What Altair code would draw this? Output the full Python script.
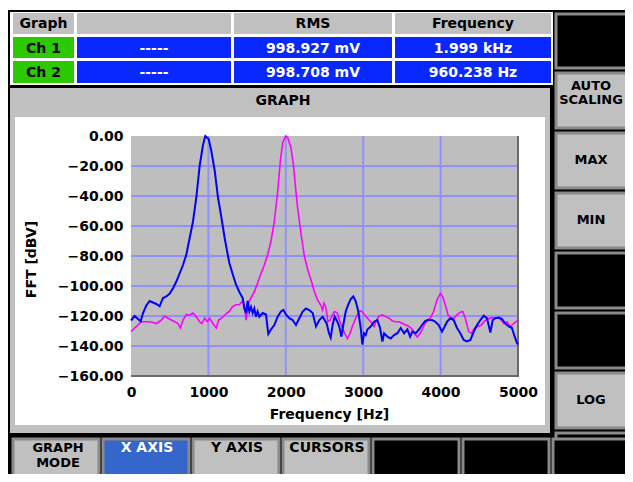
import altair as alt
import pandas as pd

# ---------------- data ----------------
# Ch 1 (magenta) spectrum
ch1_freq = [0, 47, 90, 133, 198, 262, 327, 392, 435, 478, 521, 564, 607, 637, 672, 715, 758, 801,
            844, 887, 917, 952, 986, 1016, 1059, 1102, 1133, 1167, 1210, 1240, 1270, 1313, 1356,
            1400, 1443, 1464, 1486, 1507, 1529, 1550, 1593, 1636, 1680, 1723, 1766, 1809, 1852,
            1895, 1930, 1960, 1999, 2025, 2067, 2100, 2131, 2153, 2196, 2240, 2283, 2326, 2369,
            2412, 2455, 2476, 2494, 2515, 2545, 2575, 2605, 2631, 2666, 2700, 2731, 2761, 2796,
            2830, 2860, 2903, 2946, 2976, 3011, 3054, 3097, 3140, 3175, 3205, 3248, 3291, 3334,
            3377, 3420, 3463, 3507, 3550, 3593, 3636, 3666, 3700, 3744, 3780, 3824, 3867, 3910,
            3953, 3997, 4027, 4061, 4096, 4126, 4169, 4212, 4255, 4285, 4319, 4362, 4397, 4440,
            4483, 4526, 4570, 4613, 4664, 4707, 4750, 4785, 4815, 4858, 4901, 4944, 4987, 5000]
ch1_db = [-130.4, -128, -126, -123.8, -123.8, -124, -125, -122.7, -120, -121.5, -122.7, -123.8,
          -125, -128, -122.7, -119, -119.5, -118, -120.5, -123.8, -125, -121.5, -123.8, -121.5,
          -125, -128, -122.7, -121.5, -119.5, -118, -117, -113.7, -112.5, -112.5, -110, -112.5,
          -122.7, -115, -110, -108, -103.7, -98, -91.5, -86, -79, -70, -57, -37, -16.5, -4.5, 0,
          -1, -8, -20, -37, -48, -65, -80, -89, -96, -103.7, -109.5, -113, -116, -111.5, -113.8,
          -123.8, -122.7, -119, -117, -118, -123.8, -128, -131.5, -135, -131.5, -127, -121.5,
          -117, -116.7, -118.9, -121.5, -123.8, -127, -122.7, -120, -119.3, -120.4, -121.5,
          -123.3, -123.8, -123.8, -125, -126, -127, -129, -132, -134, -131, -127, -122.7,
          -121.5, -117, -109.3, -105, -107, -112.7, -119.3, -121, -121.5, -119.3, -117.5, -117,
          -121.5, -130.4, -131.5, -128, -127, -126, -123.3, -122, -121, -121.5, -121, -122.7,
          -125, -123.8, -127, -125, -123.3, -123.8]

# Ch 2 (blue) spectrum
ch2_freq = [0, 47, 90, 125, 155, 198, 241, 284, 327, 370, 413, 457, 500, 543, 586, 629, 672, 715,
            758, 801, 844, 887, 930, 960, 1003, 1038, 1081, 1124, 1167, 1210, 1253, 1270, 1313,
            1356, 1400, 1443, 1464, 1486, 1507, 1529, 1550, 1572, 1593, 1615, 1636, 1658, 1701,
            1744, 1774, 1808, 1852, 1895, 1938, 1968, 2002, 2045, 2088, 2131, 2175, 2218, 2261,
            2304, 2347, 2390, 2433, 2476, 2494, 2528, 2558, 2580, 2605, 2631, 2666, 2696, 2718,
            2743, 2774, 2804, 2838, 2873, 2903, 2937, 2968, 2989, 3011, 3032, 3054, 3097, 3140,
            3183, 3218, 3248, 3270, 3313, 3356, 3399, 3442, 3485, 3528, 3571, 3606, 3636, 3679,
            3722, 3760, 3803, 3846, 3889, 3932, 3975, 4018, 4053, 4083, 4126, 4169, 4212, 4255,
            4298, 4341, 4385, 4428, 4471, 4514, 4557, 4600, 4643, 4673, 4707, 4750, 4793, 4836,
            4879, 4922, 4957, 4987, 5000]
ch2_db = [-123, -120, -122, -123.5, -118, -113, -110, -111, -112, -113.5, -108, -107, -105,
          -101.5, -97, -91.5, -86, -79, -68, -57, -41, -20, -6, 0, -2, -10, -23, -41, -54, -68,
          -80, -84.5, -92, -99, -104, -108, -115, -118, -110, -117, -114, -118, -115, -120.5,
          -117, -120.5, -118, -119, -132, -129, -126, -120.5, -117, -116, -119, -121.5, -122.7,
          -126, -121.5, -117, -115, -116, -118, -127, -122.7, -120.5, -122, -125, -131.5,
          -134.4, -126, -120.4, -123.8, -128, -133.8, -126, -117, -112.7, -108.7, -107, -110,
          -117, -128, -139, -131.5, -132.7, -129, -127, -123.8, -122.7, -128, -137, -131.5,
          -133.8, -135, -132.7, -131.5, -128, -131.5, -129, -133.8, -130.4, -131.5, -129, -126,
          -123.3, -122.7, -122.7, -123.8, -126, -130.4, -127, -123.8, -121.5, -122.7, -128,
          -131.5, -136, -137, -136, -130.4, -126, -122.7, -119.8, -121.5, -131, -122.7, -121.5,
          -121, -122, -125, -127, -128, -133.8, -138, -139]

channels = ["Ch 1", "Ch 2"]
channel_blank = ["-----", "-----"]
channel_rms = ["998.927 mV", "998.708 mV"]
channel_freq = ["1.999 kHz", "960.238 Hz"]
table_header = ["Graph", "", "RMS", "Frequency"]
x_ticks = [0, 1000, 2000, 3000, 4000, 5000]
y_ticks = [0, -20, -40, -60, -80, -100, -120, -140, -160]
side_keys = [["AUTO", "SCALING"], ["MAX"], ["MIN"], [], [], ["LOG"], []]
bottom_keys = [["GRAPH", "MODE"], ["X AXIS"], ["Y AXIS"], ["CURSORS"], [], [], []]
panel_title = "GRAPH"
x_title = "Frequency [Hz]"
y_title = "FFT [dBV]"

# ---------------- layout / style ----------------
FONT = "DejaVu Sans"
OX, OY = 131, 136          # page position of the plot origin
PW, PH = 387, 240          # plot area size
TOTAL_W, TOTAL_H = 617, 466
PANEL = "#c0c0c0"
KEY_EDGE = "#8a8a8a"
CELL_BLUE = "#0828ff"
CELL_GREEN = "#2cc800"
KEY_BLUE = "#3466cc"
GRID = "#9090ff"
PLOT_BG = "#bebebe"

ONE = alt.Data(values=[{}])


def box(x0, y0, x1, y1, fill, stroke=None, sw=0):
    kw = dict(fill=fill)
    if stroke:
        kw.update(stroke=stroke, strokeWidth=sw)
    return alt.Chart(ONE).mark_rect(**kw).encode(
        x=alt.value(x0 - OX), x2=alt.value(x1 - OX),
        y=alt.value(y0 - OY), y2=alt.value(y1 - OY))


def label(x, y, text, color="black", size=14):
    return alt.Chart(ONE).mark_text(
        text=text, color=color, font=FONT, fontSize=size, fontWeight="bold",
        align="center", baseline="middle").encode(
        x=alt.value(x - OX), y=alt.value(y - OY))


layers = []
# screen background
layers.append(box(8, 10, 645, 495, "black"))

# ---- table ----
layers.append(box(10, 12, 553, 85, "white"))
cols = [(13, 74), (77, 231), (234, 392), (395, 551)]
rows = [(13, 34), (37, 58), (61, 83)]
for ci, (cx0, cx1) in enumerate(cols):
    layers.append(box(cx0, rows[0][0], cx1, rows[0][1], PANEL))
    if table_header[ci]:
        layers.append(label((cx0 + cx1) / 2, 24, table_header[ci]))
row_texts = [channels, channel_blank, channel_rms, channel_freq]
for ri in range(2):
    ry0, ry1 = rows[ri + 1]
    for ci, (cx0, cx1) in enumerate(cols):
        fill = CELL_GREEN if ci == 0 else CELL_BLUE
        layers.append(box(cx0, ry0, cx1, ry1, fill))
        color = "black" if ci == 0 else "white"
        layers.append(label((cx0 + cx1) / 2, (ry0 + ry1) / 2 + 1, row_texts[ci][ri], color))

# ---- middle panel ----
layers.append(box(10, 88, 550, 433, PANEL))
layers.append(label(283, 101, panel_title))
layers.append(box(15, 117, 545, 425, "white"))

# ---- right soft keys ----
layers.append(box(556, 14, 645, 68, "black", KEY_EDGE, 3))
for i, lines in enumerate(side_keys):
    top = 73 + 60 * i
    fill = PANEL if lines else "black"
    layers.append(box(556, top, 645, top + 55, fill, KEY_EDGE, 3))
    if len(lines) == 2:
        layers.append(label(591, top + 13, lines[0], size=13))
        layers.append(label(591, top + 27, lines[1], size=13))
    elif lines:
        layers.append(label(591, top + 27, lines[0], size=13))

# ---- bottom soft keys ----
for i, lines in enumerate(bottom_keys):
    left = 13 + 90 * i
    if i == 1:
        fill = KEY_BLUE
    elif lines:
        fill = PANEL
    else:
        fill = "black"
    layers.append(box(left, 439, left + 86, 495, fill, KEY_EDGE, 3))
    if len(lines) == 2:
        layers.append(label(left + 45, 448, lines[0], size=13))
        layers.append(label(left + 45, 463, lines[1], size=13))
    elif lines:
        layers.append(label(left + 44, 448, lines[0], "white" if i == 1 else "black"))

# ---- plot ----
layers.append(box(OX, OY, OX + PW, OY + PH, PLOT_BG))

xscale = alt.Scale(domain=[0, 5000], nice=False, zero=False)
yscale = alt.Scale(domain=[-160, 0], nice=False, zero=False)
common_axis = dict(grid=False, ticks=False, domain=False, labelFont=FONT, labelFontSize=14,
                   labelFontWeight="bold", labelColor="black", titleFont=FONT,
                   titleFontSize=14, titleFontWeight="bold", titleColor="black", zindex=1,
                   labelFlush=False, labelOverlap=False)
xaxis = alt.Axis(values=x_ticks, format="d", labelPadding=9, title=x_title,
                 titleX=198, titleY=38, titleAlign="center", titleBaseline="middle",
                 **common_axis)
yaxis = alt.Axis(values=y_ticks, format=".2f", labelPadding=8, title=y_title,
                 titleX=-100, titleY=123, titleAngle=270, titleAlign="center",
                 titleBaseline="middle", **common_axis)
X = alt.X("freq:Q", scale=xscale, axis=xaxis)
Y = alt.Y("dB:Q", scale=yscale, axis=yaxis)

vgrid = alt.Chart(pd.DataFrame({"freq": x_ticks[1:-1]})).mark_rule(
    color=GRID, strokeWidth=2).encode(x=X)
hgrid = alt.Chart(pd.DataFrame({"dB": y_ticks[1:-1]})).mark_rule(
    color=GRID, strokeWidth=2).encode(y=Y)
layers += [vgrid, hgrid]

# plot edge shading
layers.append(alt.Chart(ONE).mark_rule(color="#6a6a6a", strokeWidth=2).encode(
    x=alt.value(PW), y=alt.value(0), y2=alt.value(PH + 1)))
layers.append(alt.Chart(ONE).mark_rule(color="#6a6a6a", strokeWidth=2).encode(
    x=alt.value(0), x2=alt.value(PW + 1), y=alt.value(PH)))

df1 = pd.DataFrame({"freq": ch1_freq, "dB": ch1_db})
df2 = pd.DataFrame({"freq": ch2_freq, "dB": ch2_db})
trace1 = alt.Chart(df1).mark_line(color="#ff00ff", strokeWidth=1.6).encode(x=X, y=Y)
trace2 = alt.Chart(df2).mark_line(color="#0000ff", strokeWidth=2).encode(x=X, y=Y)
layers += [trace1, trace2]

chart = alt.layer(*layers).properties(
    width=PW, height=PH,
    autosize=alt.AutoSizeParams(type="none"),
    padding={"left": OX - 8, "top": OY - 8, "right": TOTAL_W - (OX - 8) - PW,
             "bottom": TOTAL_H - (OY - 8) - PH},
    background="white",
).configure_view(stroke=None)

chart.save("out.html", embed_options={"renderer": "svg", "actions": False})
